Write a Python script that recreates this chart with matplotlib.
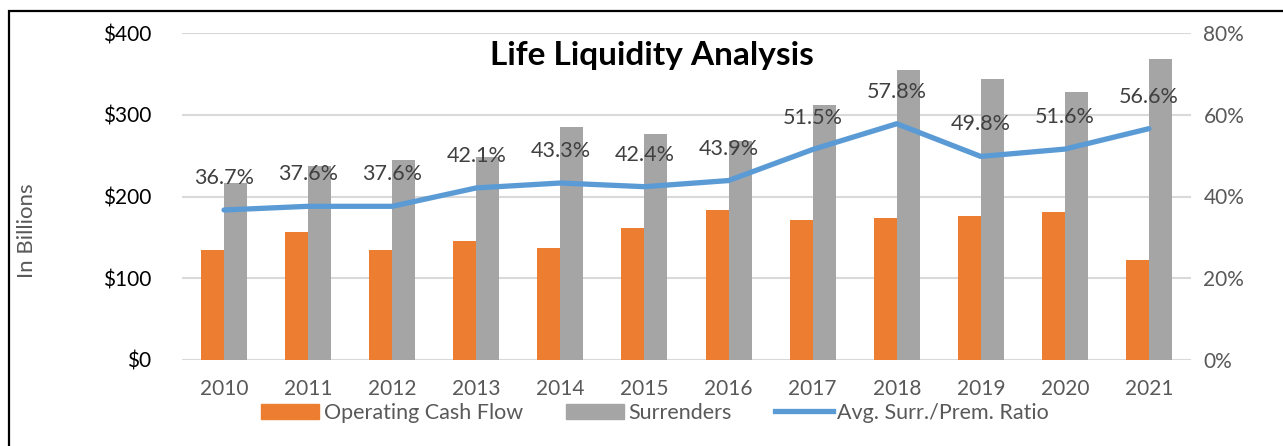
import numpy as np
import matplotlib.pyplot as plt
from matplotlib.patches import Rectangle
from matplotlib.lines import Line2D

plt.rcParams['font.family'] = ['Lato', 'DejaVu Sans']

years = ['2010', '2011', '2012', '2013', '2014', '2015',
         '2016', '2017', '2018', '2019', '2020', '2021']
cash_flow = [135, 156, 135, 145, 137, 162, 184, 171, 174, 176, 181, 122]
surrenders = [216, 237, 245, 248, 285, 276, 268, 312, 355, 344, 328, 368]
ratio = [36.7, 37.6, 37.6, 42.1, 43.3, 42.4, 43.9, 51.5, 57.8, 49.8, 51.6, 56.6]

orange = '#ED7D31'
gray = '#A5A5A5'
blue = '#5B9BD5'
txt = '#595959'
fs = 15

W, H = 1283, 446
fig = plt.figure(figsize=(W / 100, H / 100), dpi=100)

# outer frame (only top and left edges are visible in the picture)
fig.patches.append(Rectangle((8.5 / W, -0.1), 1.2, (H - 10.5) / H + 0.1,
                             transform=fig.transFigure, fill=False,
                             edgecolor='black', linewidth=1.6))

ax = fig.add_axes([182 / W, 86 / H, 1009 / W, 327 / H])
x = np.arange(len(years))
bw = 0.274

ax.bar(x - bw / 2, cash_flow, bw, color=orange, zorder=2)
ax.bar(x + bw / 2, surrenders, bw, color=gray, zorder=2)
ax.set_ylim(0, 400)
ax.set_xlim(-0.5, len(years) - 0.5)
ax.set_yticks(range(0, 401, 100))
ax.set_yticklabels(['$' + str(v) for v in range(0, 401, 100)])
ax.grid(axis='y', color='#D9D9D9', linewidth=1.5, zorder=0)
ax.set_axisbelow(True)
for s in ax.spines.values():
    s.set_visible(False)
ax.tick_params(axis='y', length=0, pad=22, labelsize=fs, labelcolor='black')
ax.set_xticks(x)
ax.set_xticklabels(years)
ax.tick_params(axis='x', length=0, pad=14, labelsize=fs, labelcolor=txt)
ax.set_ylabel('In Billions', fontsize=16, color=txt)
ax.yaxis.set_label_coords(-145 / 1009, 129 / 327)

ax2 = ax.twinx()
ax2.plot(x, ratio, color=blue, linewidth=3.8, solid_capstyle='round', zorder=3)
ax2.set_ylim(0, 80)
ax2.set_yticks(range(0, 81, 20))
ax2.set_yticklabels([str(v) + '%' for v in range(0, 81, 20)])
ax2.tick_params(axis='y', length=0, pad=9, labelsize=fs, labelcolor=txt)
for s in ax2.spines.values():
    s.set_visible(False)
for xi, r in zip(x, ratio):
    ax2.annotate(f'{r:.1f}%', (xi, r), xytext=(0, 23), textcoords='offset points',
                 ha='center', va='center', fontsize=15.5, color='#404040')

fig.text(652 / W, 1 - 55 / H, 'Life Liquidity Analysis', ha='center', va='center',
         fontsize=24, fontweight='bold', color='black')

handles = [Rectangle((0, 0), 1, 1, color=orange),
           Rectangle((0, 0), 1, 1, color=gray),
           Line2D([], [], color=blue, linewidth=3.8)]
fig.legend(handles, ['Operating Cash Flow', 'Surrenders', 'Avg. Surr./Prem. Ratio'],
           loc='center', bbox_to_anchor=(655 / W, 1 - 413 / H), ncol=3, frameon=False,
           fontsize=15.5, labelcolor=txt, handlelength=2.7, handleheight=0.75,
           handletextpad=0.2, columnspacing=2.0, borderpad=0)

fig.savefig('out.png', dpi=100)
